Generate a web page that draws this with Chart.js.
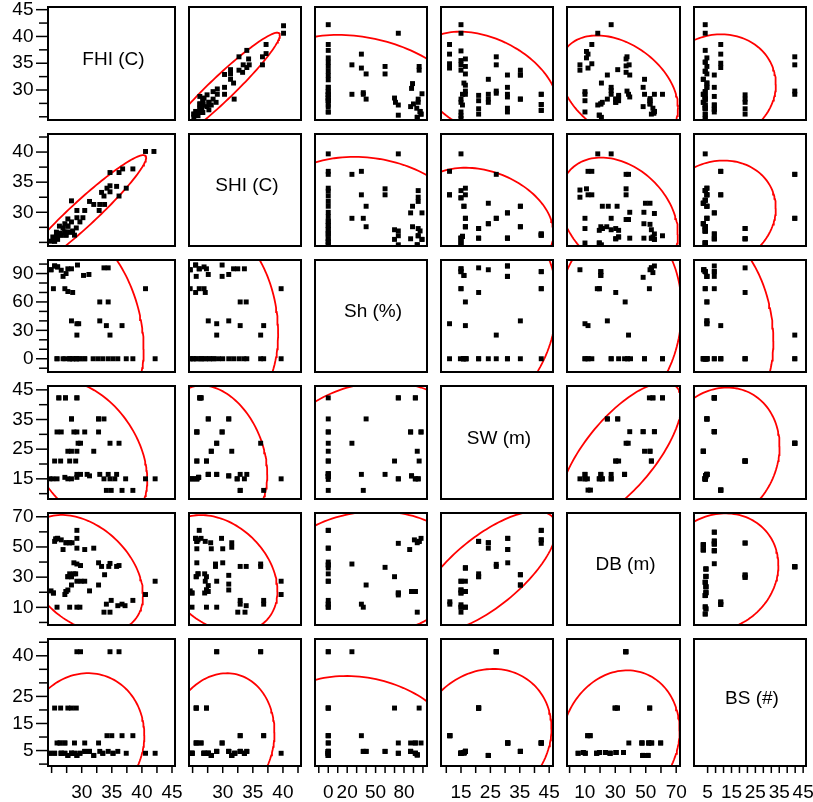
<!DOCTYPE html>
<html>
<head>
<meta charset="utf-8">
<script src="https://cdn.jsdelivr.net/npm/chart.js@4.4.1/dist/chart.umd.min.js"></script>
<style>
  html, body { margin: 0; padding: 0; background: #fff; }
  #wrap { position: relative; width: 813px; height: 802px; overflow: hidden; background: #fff; }
  #wrap canvas { position: absolute; }
</style>
</head>
<body>
<div id="wrap"></div>
<script>
// variables of the matrix, in row/column order
const varNames = ["FHI (C)", "SHI (C)", "Sh (%)", "SW (m)", "DB (m)", "BS (#)"];
const axisMin = [24.4, 24.4, -14, 8.2, -1.7, -0.7];
const axisMax = [45.5, 43.0, 104.3, 46.3, 72.5, 46.2];

// tick marks and tick labels (left axis = rows, bottom axis = columns)
const yTicks = [
  [25, 27.5, 30, 32.5, 35, 37.5, 40, 42.5, 45],
  [25, 27.5, 30, 32.5, 35, 37.5, 40, 42.5],
  [-10, 0, 10, 20, 30, 40, 50, 60, 70, 80, 90, 100],
  [10, 15, 20, 25, 30, 35, 40, 45],
  [0, 10, 20, 30, 40, 50, 60, 70],
  [0, 5, 10, 15, 20, 25, 30, 35, 40, 45]
];
const yLabels = [[30, 35, 40, 45], [30, 35, 40], [0, 30, 60, 90], [15, 25, 35, 45], [10, 30, 50, 70], [5, 15, 25, 40]];
const xTicks = [
  [25, 27.5, 30, 32.5, 35, 37.5, 40, 42.5, 45],
  [25, 27.5, 30, 32.5, 35, 37.5, 40, 42.5],
  [-10, 0, 10, 20, 30, 40, 50, 60, 70, 80, 90, 100],
  [10, 15, 20, 25, 30, 35, 40, 45],
  [0, 10, 20, 30, 40, 50, 60, 70],
  [5, 8.33, 11.67, 15, 18.33, 21.67, 25, 28.33, 31.67, 35, 38.33, 41.67, 45]
];
const xLabels = [[30, 35, 40, 45], [30, 35, 40], [0, 20, 50, 80], [15, 25, 35, 45], [10, 30, 50, 70], [5, 15, 25, 35, 45]];

// pairs [first variable, second variable, overlapping count]; upper panels use them swapped
const fhiShi = [[40.6,40.1],[42.0,40.1],[34.7,36.6],[36.2,36.6],[36.8,37.2],[38.5,37.2],
  [34.7,34.4],[34.2,34.0],[35.8,34.3],[37.4,34.0],[33.3,33.3],[34.7,33.4],[33.7,32.7],[36.2,32.7],
  [33.0,31.3],[33.8,31.3],[31.3,31.8],[32.0,31.3],[32.9,30.3],[28.3,31.9],[30.5,30.3],[29.2,30.3],
  [29.2,29.1],[30.2,29.1],[29.7,28.4],[27.7,28.9],[28.3,28.4],[27.2,28.1],[26.3,27.7],[26.9,27.4],
  [27.7,27.7,2],[29.1,27.4],[28.5,26.9],[25.8,26.7],[26.3,26.5,3],[27.2,26.7,3],[28.0,26.7,2],[28.8,26.2],
  [27.4,26.2,2],[26.6,26.2,2],[25.2,25.9],[25.8,26.0,2],[24.9,25.2],[25.5,25.2,2],[26.0,25.5]];
const fhiSh = [[24.9,94,2],[25.5,98,2],[26.0,97,2],[26.6,93.5],[26.9,87],[27.4,90],[27.7,95],[28.3,95],
  [29.3,99],[30.3,88],[31.2,89],[33.7,96],[34.4,96],[25.3,74],[27.2,74],[27.7,71],[28.5,70],
  [33.0,60],[34.4,60],[28.3,40],[29.2,37],[29.5,37],[33.0,40],[34.1,35],[36.7,35],[29.2,25],
  [34.7,25],[40.6,74],[25.9,0,2],[26.9,0],[27.2,0],[28.0,0,3],[28.5,0,2],[29.1,0,3],[29.7,0,2],
  [30.5,0,2],[31.9,0],[32.7,0],[33.5,0],[34.4,0],[35.2,0],[36.0,0],[37.4,0],[38.5,0],[42.2,0]];
const shiSh = [[24.6,94,2],[25.5,99,2],[25.6,87],[26.1,95,2],[26.9,97],[27.3,95],[27.6,89],[29.9,99],
  [29.9,87],[31.0,89],[31.8,95],[32.5,95],[33.6,95],[24.6,74],[25.5,70],[26.1,74],[26.9,74],
  [27.1,70],[32.9,60],[33.9,60],[27.6,40],[29.0,37],[31.0,40],[32.9,35],[36.8,35],[29.0,25],
  [36.3,25],[39.7,74],[24.6,0,2],[25.1,0,2],[25.6,0,2],[26.4,0,3],[27.1,0,2],[27.8,0,2],[28.5,0,2],
  [29.3,0],[30.0,0],[31.0,0],[31.8,0],[32.7,0],[33.5,0],[34.0,0],[36.3,0],[36.8,0],[39.7,0]];
const fhiSw = [[26.2,42.3,2],[27.3,42.3,2],[29.2,42.3,2],[28.3,35.2,2],[32.8,35.2,2],[33.7,35.2],
  [25.9,30.8],[26.6,30.8],[28.7,30.8],[29.2,30.8],[30.5,30.8],[32.8,30.8],[29.4,27.0],[29.8,27.0],
  [34.7,27.0],[36.2,27.0],[27.7,24.3],[28.3,24.3],[29.2,24.3],[32.0,24.3],[25.5,21.0],[26.5,21.0],
  [28.0,21.0],[29.0,21.0],[24.7,15.0],[25.2,15.0],[25.9,15.0],[27.2,15.5],[27.7,15.0],[28.3,15.0],
  [29.2,15.5],[29.2,16.5],[29.8,16.5],[30.9,16.5],[31.3,16.0],[33.0,16.5],[33.7,15.0],[34.4,16.5],
  [34.7,15.0],[35.8,16.5],[35.5,15.0],[37.3,15.0],[40.6,15.0],[42.2,15.0],[34.1,11.1],[34.9,11.1],
  [36.7,11.1],[38.5,11.1]];
const shiSw = [[26.2,42.3,3],[26.4,42.3,2],[27.6,35.2,2],[31.0,35.2,2],[25.7,30.8,3],[29.9,30.8,2],[29.0,27.0,2],
  [36.3,27.0],[28.1,24.3,2],[31.5,24.3],[25.7,21.0,2],[27.3,21.0,2],[24.9,15.0,3],[25.7,15.0,3],[26.0,15.5,3],
  [27.6,16.5,3],[29.0,16.5,2],[31.0,16.0,2],[32.4,15.0,2],[32.9,16.5],[33.6,15.0],[34.0,16.5],[39.7,15.0],
  [32.9,11.1,2],[36.8,11.1]];
const shSw = [[0,42.3],[74,42.3,2],[92,42.3,2],[0,35.2],[40,35.2],[0,30.8,2],[87,30.8,2],[98,30.8,2],
  [0,27.0],[25,27.0],[0,24.3],[94,24.3],[0,21.0,2],[70,21.0],[96,21.0],[0,16.7,3],[0,15.8,3],[0,14.8],
  [35,16.5],[60,16.5],[74,15.0,2],[88,16.0,2],[92,15.0,2],[95,15.0,2],[0,11.1],[37,11.1]];
const fhiDb = [[29.2,61],[29.2,55.7],[25.7,55.3,2],[26.0,55.7,2],[26.6,54.7],[25.5,53.7],[27.4,52.8,2],
  [28.0,52.8,2],[28.4,52.8],[26.9,48.3],[29.2,49.2],[30.5,48.3],[32.0,49.2],[28.7,39.5],[29.2,38.7],
  [29.8,37.7],[32.8,39.5],[33.3,37.1],[34.5,37.1],[34.7,39.1],[35.8,37.1],[36.2,37.7],[28.0,32.2],
  [28.3,30.3,2],[27.7,30.3,2],[28.7,32.2],[29.0,32.2],[29.2,27.3],[29.9,27.3],[30.5,27.3],[28.3,24.8],
  [32.8,24.8],[33.8,31.6],[31.3,20.9],[24.9,20.9],[25.3,19.5,2],[27.4,20.5,2],[27.7,21.5],[27.2,18.5],
  [42.2,27.3],[40.6,18.5],[25.9,10.1],[28.0,10.1],[29.2,10.1],[29.7,10.1],[34.1,12.1],[34.9,14.6],
  [36.0,11.1],[36.7,12.1],[37.2,11.1],[38.5,14.6],[33.7,6.8],[34.7,6.8]];
const shiDb = [[26.1,61],[25.5,55.7,2],[25.9,54.7],[26.4,55.7],[25.7,53.7,2],[27.1,53.7],[25.7,48.8],
  [28.0,52.8],[28.1,48.8],[29.8,55.7],[30.0,48.8],[31.5,52.8],[31.5,49.8],[25.7,39.5],[27.0,32.2],
  [27.3,30.3],[25.9,32.2,2],[25.6,30.3,2],[28.8,38.7],[28.8,37.1],[30.0,39.5],[32.9,37.1],[33.9,37.1],
  [36.3,38.7],[36.3,37.1],[27.1,27.3],[27.6,24.4],[29.0,27.3],[31.0,31.2],[31.0,25.4],[31.0,21.5],
  [24.6,20.9],[24.9,19.5,2],[27.0,19.5],[27.3,21.5,2],[27.6,20.5],[39.7,27.3],[39.7,18.5],[24.9,10.1],
  [27.3,10.1],[29.0,10.1],[32.9,12.1],[32.9,14.6],[33.9,11.1],[36.8,14.6],[36.8,12.1],[32.5,6.8],
  [33.7,6.8]];
const shDb = [[0,61,2],[0,49.2,2],[0,40],[0,38.1,2],[0,36.1],[0,32.2],[0,27.3,2],[0,14.6],[0,12.1,2],[0,10.1,2],
  [25,38.7],[35,12.1],[37,10.1],[40,24.8],[60,36.5],[70,30.3],[74,52.4],[74,19.5,2],[74,18.2],
  [86,48.3],[88,20.5,2],[92,20.5,2],[91,54.7],[94,52.8],[96,53.7,2],[98,55.7],[94,6.8]];
const swDb = [[11.2,13.7],[11.2,12.1],[15.0,27.3,2],[15.0,21.5,2],[15.0,19.5,2],[15.0,11.7],[15.0,10.1,2],
  [15.0,6.8],[16.5,27.3],[16.5,36.1,3],[16.5,20.5,2],[16.5,10.1,2],[21.0,53.7,2],[21.0,32.2],[21.0,30.3,2],
  [24.3,52.8,2],[24.3,49.2],[27.0,38.5],[27.0,37.1],[30.9,55.7,2],[30.9,48.3,2],[30.9,39.5],[35.2,31.6,2],
  [35.2,24.8,2],[42.3,61,2],[42.3,54.7,2],[42.3,52.4]];
const fhiBs = [[29.2,41.5],[29.8,41.5],[34.7,41.5],[36.2,41.5],[25.5,20.7],[26.5,20.7],[27.7,20.7],
  [28.3,20.7],[29.1,20.7],[25.9,7.8],[26.4,7.8,2],[27.2,7.8,2],[28.8,7.8],[30.5,7.8],[32.8,7.8],
  [34.2,10.5],[35.0,10.5],[36.7,10.5],[38.5,10.5],[24.7,4,2],[25.5,4,2],[26.6,4,4],[27.2,4,2],[27.7,3.2,2],
  [28.3,4,4],[28.8,4,2],[29.2,3.2,2],[29.7,4,2],[30.5,4.7,2],[31.3,4.7,2],[32.0,3.2,2],[33.0,4.7],[33.5,4,2],
  [34.4,4.7],[35.2,4,2],[36.0,4.7],[37.4,4],[40.6,4],[42.2,4]];
const shiBs = [[29.0,41.5,2],[36.3,41.5,2],[25.6,20.7,3],[27.3,20.7,2],[25.6,7.8,3],[26.4,7.8,2],[29.9,7.8,2],
  [32.9,10.5,2],[36.8,10.5,2],[24.9,4,5],[26.9,4,5],[27.6,4,5],[28.1,3.2,3],[29.0,4.7,3],[31.0,4.7,3],
  [31.5,3.2,3],[32.0,4,3],[32.9,4.7,3],[33.6,4,3],[34.0,4.7,2],[39.7,4]];
const shBs = [[0,41.5,2],[25,41.5],[0,20.7,3],[70,20.7],[96,20.7],[0,10.5,3],[35,10.5],[0,7.8,2],[74,7.8],
  [87,7.8],[92,7.8,2],[98,7.8],[0,4.7,5],[0,4,6],[0,3.2,4],[37,4.7,2],[40,4.7,2],[60,4.7,2],[74,4,2],
  [87,4.7,3],[92,4,3],[94,3.4,3]];
const swBs = [[27.0,41.5,4],[21.0,20.7,5],[11.2,10.5,4],[30.9,7.8,5],[42.3,7.8,5],[15.0,4,9],[16.0,4.2,7],
  [16.5,4.7,6],[24.3,3.2,4],[35.2,4.7,4]];
const dbBs = [[36.9,41.5,4],[29.9,20.7,2],[31.4,20.7,2],[52.6,20.7,2],[11.9,10.5,2],[13.5,10.5,2],[38.9,7.8],
  [47.5,7.8,3],[52.0,7.8,3],[53.9,7.8,2],[59.8,7.8,2],[5.6,4,2],[9.0,4.3,2],[10.3,4,2],[17.8,4,3],[19.7,4.3,3],
  [23.6,4.3,3],[26.6,4,3],[30.5,4.3,3],[35.4,4.3,3],[48.1,3.2,4],[51.4,3.2,4]];

// lower panel (row, col) -> pairs
const pairData = {
  "1,0": fhiShi, "2,0": fhiSh, "2,1": shiSh, "3,0": fhiSw, "3,1": shiSw, "3,2": shSw,
  "4,0": fhiDb, "4,1": shiDb, "4,2": shDb, "4,3": swDb,
  "5,0": fhiBs, "5,1": shiBs, "5,2": shBs, "5,3": swBs, "5,4": dbBs
};

function panelPoints(r, c) {
  const lower = r > c;
  const src = lower ? pairData[r + "," + c] : pairData[c + "," + r];
  const pts = [];
  src.forEach(p => {
    const n = p[2] || 1;
    for (let k = 0; k < n; k++) pts.push(lower ? { x: p[0], y: p[1] } : { x: p[1], y: p[0] });
  });
  return pts;
}

// 95% bivariate normal density ellipse
function densityEllipse(pts) {
  const n = pts.length;
  let mx = 0, my = 0;
  pts.forEach(p => { mx += p.x; my += p.y; });
  mx /= n; my /= n;
  let sxx = 0, syy = 0, sxy = 0;
  pts.forEach(p => {
    const dx = p.x - mx, dy = p.y - my;
    sxx += dx * dx; syy += dy * dy; sxy += dx * dy;
  });
  sxx /= n - 1; syy /= n - 1; sxy /= n - 1;
  const a = Math.sqrt(sxx), b = sxy / a, c = Math.sqrt(Math.max(syy - b * b, 0));
  const k = Math.sqrt(5.991);
  const out = [];
  for (let i = 0; i <= 144; i++) {
    const t = i / 144 * 2 * Math.PI;
    out.push({ x: mx + k * a * Math.cos(t), y: my + k * (b * Math.cos(t) + c * Math.sin(t)) });
  }
  return out;
}

const FONT = '"Liberation Sans", Arial, sans-serif';
const hasValue = (arr, v) => arr.some(l => Math.abs(l - v) < 1e-6);

// frame, tick marks and diagonal names
const matrixPlugin = {
  id: "matrix",
  afterDraw(chart, args, o) {
    const ctx = chart.ctx, a = chart.chartArea;
    ctx.save();
    ctx.strokeStyle = "#000";
    if (o.left) {
      ctx.lineWidth = 1.5;
      const s = chart.scales.y;
      yTicks[o.row].forEach(v => {
        const p = s.getPixelForValue(v);
        const len = hasValue(yLabels[o.row], v) ? 12 : 9;
        ctx.beginPath(); ctx.moveTo(a.left - len, p); ctx.lineTo(a.left, p); ctx.stroke();
      });
    }
    if (o.bottom) {
      ctx.lineWidth = 1.5;
      const s = chart.scales.x;
      xTicks[o.col].forEach(v => {
        const p = s.getPixelForValue(v);
        ctx.beginPath(); ctx.moveTo(p, a.bottom); ctx.lineTo(p, a.bottom + 7); ctx.stroke();
      });
    }
    ctx.lineWidth = 2;
    ctx.strokeRect(a.left, a.top, a.right - a.left, a.bottom - a.top);
    if (o.title) {
      ctx.fillStyle = "#000";
      ctx.font = "19px " + FONT;
      ctx.textAlign = "center";
      ctx.textBaseline = "middle";
      ctx.fillText(o.title, (a.left + a.right) / 2 + 2, (a.top + a.bottom) / 2 - 4);
    }
    ctx.restore();
  }
};

const X = [48, 175, 301, 427, 553, 680, 806];
const Y = [7, 134, 260, 386, 513, 639, 766];
const wrap = document.getElementById("wrap");

for (let r = 0; r < 6; r++) {
  for (let c = 0; c < 6; c++) {
    const padL = c === 0 ? X[0] : 14;
    const padR = c === 5 ? 813 - X[6] : 14;
    const padT = r === 0 ? Y[0] : 14;
    const padB = r === 5 ? 802 - Y[6] : 14;
    const cv = document.createElement("canvas");
    cv.width = X[c + 1] - X[c] + padL + padR;
    cv.height = Y[r + 1] - Y[r] + padT + padB;
    cv.style.left = (X[c] - padL) + "px";
    cv.style.top = (Y[r] - padT) + "px";
    wrap.appendChild(cv);

    const datasets = [];
    if (r !== c) {
      const pts = panelPoints(r, c);
      datasets.push({
        data: pts, pointStyle: "rect", pointRadius: 3.5, pointBorderWidth: 0,
        backgroundColor: "#000", borderColor: "#000"
      });
      datasets.push({
        data: densityEllipse(pts), showLine: true, pointRadius: 0,
        borderColor: "#ff0000", borderWidth: 1.8, fill: false, tension: 0
      });
    }

    new Chart(cv, {
      type: "scatter",
      data: { datasets },
      plugins: [matrixPlugin],
      options: {
        responsive: false,
        animation: false,
        events: [],
        layout: { padding: { left: c === 0 ? 0 : padL, right: padR, top: padT, bottom: r === 5 ? 0 : padB } },
        plugins: {
          legend: { display: false },
          tooltip: { enabled: false },
          matrix: { row: r, col: c, left: c === 0, bottom: r === 5, title: r === c ? varNames[r] : "" }
        },
        scales: {
          x: {
            type: "linear", min: axisMin[c], max: axisMax[c], display: r === 5,
            grid: { display: false, drawTicks: false }, border: { display: false },
            ticks: {
              autoSkip: false, maxRotation: 0, minRotation: 0, padding: 15.5, color: "#000",
              font: { family: FONT, size: 19 },
              callback: v => hasValue(xLabels[c], v) ? String(v) : ""
            },
            afterBuildTicks: s => { s.ticks = xTicks[c].map(v => ({ value: v })); },
            afterFit: s => { s.height = padB; s.paddingLeft = 0; s.paddingRight = 0; }
          },
          y: {
            type: "linear", min: axisMin[r], max: axisMax[r], display: c === 0,
            grid: { display: false, drawTicks: false }, border: { display: false },
            ticks: {
              autoSkip: false, padding: 14.5, color: "#000",
              font: { family: FONT, size: 19 },
              callback: v => hasValue(yLabels[r], v) ? String(v) : ""
            },
            afterBuildTicks: s => { s.ticks = yTicks[r].map(v => ({ value: v })); },
            afterFit: s => { s.width = padL; s.paddingTop = 0; s.paddingBottom = 0; }
          }
        }
      }
    });
  }
}
</script>
</body>
</html>
